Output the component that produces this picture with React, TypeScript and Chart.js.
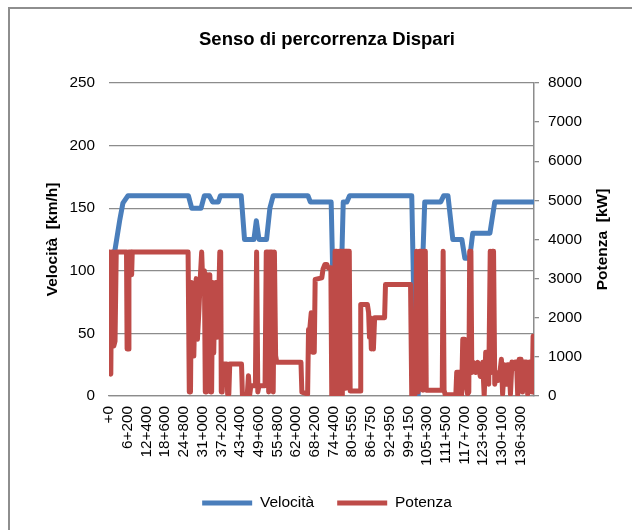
import React, { useEffect, useRef } from 'react';
import { Chart, registerables } from 'chart.js';

Chart.register(...registerables);

const TITLE = 'Senso di percorrenza Dispari';
const LEFT_TITLE = 'Velocità  [km/h]';
const RIGHT_TITLE = 'Potenza  [kW]';

const tickKm = [0, 6.2, 12.4, 18.6, 24.8, 31.0, 37.2, 43.4, 49.6, 55.8, 62.0, 68.2, 74.4, 80.55, 86.75, 92.95, 99.15, 105.3, 111.5, 117.7, 123.9, 130.1, 136.3];
const tickLabels = ['+0', '6+200', '12+400', '18+600', '24+800', '31+000', '37+200', '43+400', '49+600', '55+800', '62+000', '68+200', '74+400', '80+550', '86+750', '92+950', '99+150', '105+300', '111+500', '117+700', '123+900', '130+100', '136+300'];

const velKm = [0, 1.2, 2.0, 3.6, 4.6, 6.3, 26.3, 27.4, 30.5, 31.6, 33.2, 34.3, 36.2, 36.9, 43.8, 44.9, 48.0, 48.8, 49.7, 52.2, 53.3, 54.4, 65.9, 66.7, 73.6, 75.0, 76.0, 77.6, 78.8, 79.7, 100.3, 101.6, 102.4, 104.6, 109.9, 110.9, 112.3, 113.9, 116.9, 117.9, 119.5, 120.5, 126.2, 127.8, 140.8];
const velValues = [108, 112, 117, 141, 154, 160, 160, 150, 150, 160, 160, 155, 155, 160, 160, 125, 125, 140, 125, 125, 150, 160, 160, 155, 155, 3, 3, 155, 155, 160, 160, 0, 0, 155, 155, 160, 160, 125, 125, 110, 110, 130, 130, 155, 155];

const powKm = [0, 0.3, 0.6, 0.9, 1.3, 1.6, 2.0, 2.4, 5.8, 6.0, 6.4, 6.6, 7.3, 7.5, 7.7, 26.2, 26.6, 27.0, 27.3, 27.8, 28.1, 28.5, 28.9, 29.3, 29.8, 30.3, 30.7, 31.1, 31.6, 31.9, 32.3, 32.6, 33.0, 33.4, 33.7, 34.0, 34.3, 34.7, 35.0, 35.4, 35.8, 36.3, 36.7, 37.0, 37.2, 37.5, 37.8, 39.0, 39.3, 39.7, 40.0, 43.9, 44.2, 45.8, 46.2, 46.6, 47.0, 48.5, 48.9, 49.3, 49.7, 51.7, 52.1, 52.6, 52.9, 53.3, 54.0, 54.4, 54.8, 55.2, 55.6, 63.6, 63.9, 65.8, 66.1, 66.5, 67.0, 67.4, 68.0, 68.3, 70.5, 70.9, 71.5, 72.2, 72.5, 73.5, 73.8, 74.6, 74.9, 75.5, 75.8, 76.2, 77.0, 77.3, 77.6, 78.2, 78.5, 78.8, 79.6, 79.9, 83.2, 83.4, 85.6, 86.0, 86.3, 86.6, 86.9, 87.3, 87.6, 88.0, 91.3, 91.6, 99.9, 100.3, 101.3, 101.9, 102.4, 102.9, 103.5, 104.0, 104.3, 104.8, 105.1, 110.4, 110.7, 111.0, 111.4, 114.9, 115.2, 116.0, 116.4, 116.8, 117.2, 117.8, 118.2, 118.8, 119.2, 119.5, 119.9, 120.2, 120.8, 121.5, 122.2, 123.0, 123.8, 124.3, 124.8, 125.4, 125.8, 126.3, 126.7, 127.0, 127.4, 127.8, 128.3, 129.0, 129.5, 130.0, 130.4, 131.0, 131.5, 132.0, 132.5, 133.0, 133.5, 134.0, 134.5, 135.0, 135.4, 135.9, 136.5, 137.0, 137.5, 138.3, 138.7, 139.3, 139.9, 140.2, 140.5, 140.8];
const powValues = [3680, 600, 560, 3680, 3680, 1280, 1400, 3680, 3680, 1200, 1200, 3680, 3680, 3100, 3680, 3680, 100, 100, 2900, 1700, 1020, 2500, 3000, 1450, 2200, 3100, 3680, 2800, 3200, 100, 100, 3100, 2600, 3100, 100, 100, 2900, 1100, 2500, 2900, 1500, 2300, 3680, 3680, 100, 100, 815, 815, 50, 50, 815, 815, 30, 30, 520, 30, 260, 260, 3680, 100, 260, 260, 3680, 3680, 100, 3680, 3680, 100, 3680, 1030, 860, 860, 100, 50, 1700, 1700, 2130, 1120, 1120, 2980, 3020, 3240, 3360, 3360, 3280, 3280, 0, 0, 3700, 3700, 0, 3700, 3700, 0, 3700, 3700, 200, 3700, 3700, 130, 130, 2340, 2340, 2140, 1500, 2000, 1200, 1800, 1200, 2000, 2000, 2850, 2850, 0, 0, 3700, 100, 3700, 3700, 150, 3700, 3700, 150, 150, 3700, 150, 30, 30, 610, 610, 0, 0, 1450, 1450, 300, 50, 100, 3700, 3700, 600, 860, 600, 860, 500, 860, 0, 1120, 1120, 300, 3700, 600, 3700, 3700, 300, 600, 400, 600, 940, 50, 800, 300, 800, 800, 50, 870, 700, 870, 870, 30, 940, 940, 100, 870, 870, 50, 870, 870, 100, 1530, 100];

const FONT = "'Liberation Sans', Arial, Helvetica, sans-serif";
const GRID = '#8c8c8c';
const BLUE = '#4A7EBB';
const RED = '#BE4B48';

export default function App() {
  const ref = useRef<HTMLCanvasElement>(null);

  useEffect(() => {
    if (!ref.current) return;
    const rightTitle = {
      id: 'rightTitle',
      afterDraw(chart: any) {
        const ctx = chart.ctx;
        const area = chart.chartArea;
        ctx.save();
        ctx.translate(603, (area.top + area.bottom) / 2);
        ctx.rotate(-Math.PI / 2);
        ctx.font = `bold 15.5px ${FONT}`;
        ctx.fillStyle = '#000';
        ctx.textAlign = 'center';
        ctx.textBaseline = 'middle';
        ctx.fillText(RIGHT_TITLE, 0, 0);
        ctx.restore();
      },
    };

    const chart = new Chart(ref.current, {
      type: 'line',
      data: {
        datasets: [
          {
            label: 'Velocità',
            data: velKm.map((x, i) => ({ x, y: velValues[i] })),
            yAxisID: 'y',
            borderColor: BLUE,
            backgroundColor: BLUE,
            borderWidth: 5,
            pointRadius: 0,
            borderJoinStyle: 'round',
            borderCapStyle: 'round',
            tension: 0,
            order: 1,
          },
          {
            label: 'Potenza',
            data: powKm.map((x, i) => ({ x, y: powValues[i] })),
            yAxisID: 'y1',
            borderColor: RED,
            backgroundColor: RED,
            borderWidth: 5,
            pointRadius: 0,
            borderJoinStyle: 'round',
            borderCapStyle: 'round',
            tension: 0,
            order: 0,
          },
        ],
      },
      options: {
        responsive: false,
        animation: false,
        devicePixelRatio: 1,
        layout: { padding: { left: 0, right: 0, top: 0, bottom: 9.25 } },
        plugins: {
          title: {
            display: true,
            text: TITLE,
            color: '#000',
            font: { family: FONT, size: 18.5, weight: 'bold' },
            padding: { top: 29, bottom: 31.8 },
          },
          legend: {
            display: true,
            position: 'bottom',
            labels: {
              usePointStyle: true,
              pointStyle: 'line',
              pointStyleWidth: 50,
              padding: 23,
              color: '#000',
              font: { family: FONT, size: 15.5 },
              sort: (a: any, b: any) => a.datasetIndex - b.datasetIndex,
            },
          },
          tooltip: { enabled: false },
        },
        scales: {
          x: {
            type: 'linear',
            min: 0,
            max: 140.8,
            grid: { display: false, drawTicks: false },
            border: { display: true, color: GRID, width: 1.3 },
            afterBuildTicks: (scale: any) => {
              scale.ticks = tickKm.map((v) => ({ value: v }));
            },
            afterFit: (scale: any) => {
              scale.height = 76.25;
            },
            ticks: {
              autoSkip: false,
              minRotation: 90,
              maxRotation: 90,
              padding: 10,
              color: '#000',
              font: { family: FONT, size: 15.3 },
              callback: (_v: any, i: number) => tickLabels[i],
            },
          },
          y: {
            position: 'left',
            min: 0,
            max: 250,
            grid: { color: GRID, lineWidth: 1.3, drawTicks: false },
            border: { display: false },
            afterFit: (scale: any) => {
              scale.width = 109;
            },
            ticks: {
              stepSize: 50,
              padding: 14,
              color: '#000',
              font: { family: FONT, size: 15.3 },
              callback: (v: any) => String(v),
            },
            title: {
              display: true,
              text: LEFT_TITLE,
              color: '#000',
              font: { family: FONT, size: 15.5, weight: 'bold' },
              padding: { top: 43.5, bottom: 0 },
            },
          },
          y1: {
            position: 'right',
            min: 0,
            max: 8000,
            grid: { drawOnChartArea: false, drawTicks: true, tickLength: 5, color: GRID, lineWidth: 1.3 },
            border: { display: true, color: GRID, width: 1.5 },
            afterFit: (scale: any) => {
              scale.width = 120;
            },
            ticks: {
              stepSize: 1000,
              padding: 9,
              color: '#000',
              font: { family: FONT, size: 15.3 },
              callback: (v: any) => String(v),
            },
          },
        },
      },
      plugins: [rightTitle],
    } as any);

    return () => chart.destroy();
  }, []);

  return (
    <div style={{ position: 'fixed', left: 0, top: 0, width: 632, height: 530, overflow: 'hidden', background: '#fff' }}>
      <div style={{ position: 'absolute', left: 8, top: 7, width: 700, height: 600, border: '2px solid #8e8e8e', boxSizing: 'border-box' }} />
      <canvas ref={ref} width={654} height={530} style={{ position: 'absolute', left: 0, top: 0, width: 654, height: 530 }} />
    </div>
  );
}
